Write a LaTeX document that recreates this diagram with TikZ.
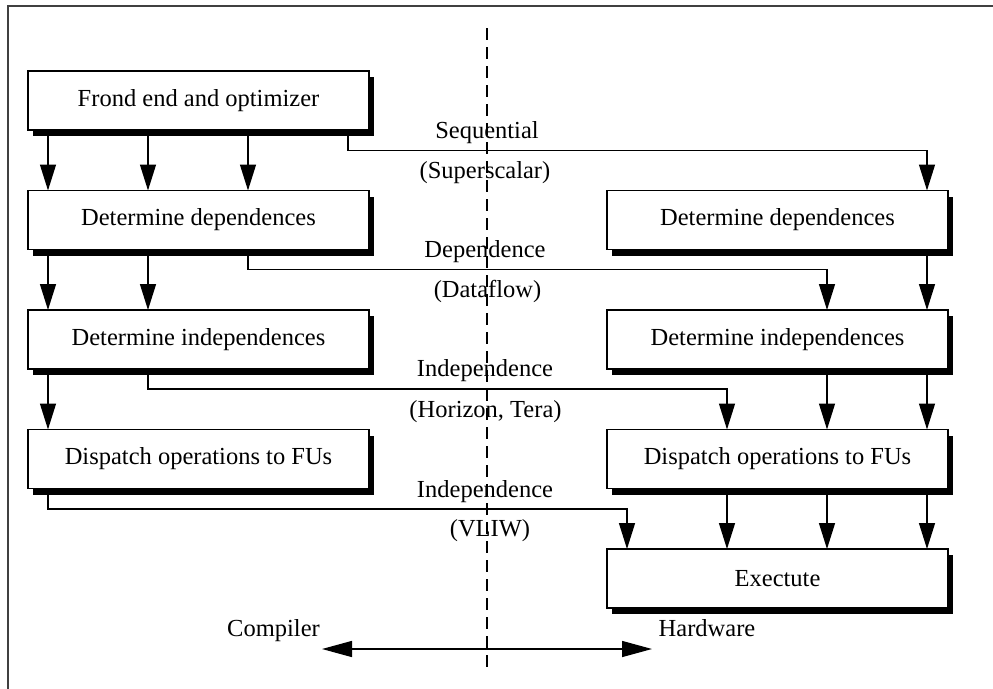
\documentclass[tikz,border=0pt]{standalone}
\usepackage{fontspec}
\setmainfont{Liberation Serif}
\usetikzlibrary{arrows.meta,shadows}
\begin{document}
\begin{tikzpicture}[x=1pt,y=-1pt,
  every node/.style={font=\fontsize{24.5}{28}\selectfont},
  procbox/.style={draw, line width=1.4pt, fill=white, minimum width=341pt,
    minimum height=59pt, inner sep=0pt, outer sep=0pt,
    drop shadow={shadow xshift=4.5pt, shadow yshift=-6pt, fill=black, opacity=1}},
  flow/.style={line width=1.4pt, -{Triangle[width=16pt,length=26pt]}},
  lbl/.style={anchor=base, inner sep=0pt},
  divider/.style={line width=1.5pt, dash pattern=on 12pt off 7pt},
  frame/.style={line width=2pt, black!75},
]
\useasboundingbox (0,0) rectangle (993,688);

% outer frame (runs off the page at right and bottom)
\draw[frame] (7.5,720) -- (7.5,6) -- (1010,6);

% compiler / hardware divider
\coordinate (dtop) at (487,28);
\coordinate (dbot) at (487,670);
\draw[divider] (dtop) -- (dbot);

% compiler side
\node[procbox] (L1) at (198.5,100.5) {Frond end and optimizer};
\node[procbox] (L2) at (198.5,220)   {Determine dependences};
\node[procbox] (L3) at (198.5,339.5) {Determine independences};
\node[procbox] (L4) at (198.5,459)   {Dispatch operations to FUs};

% hardware side
\node[procbox] (R2) at (777.5,220)   {Determine dependences};
\node[procbox] (R3) at (777.5,339.5) {Determine independences};
\node[procbox] (R4) at (777.5,459)   {Dispatch operations to FUs};
\node[procbox] (R5) at (777.5,578.5) {Exectute};

% vertical flows on the compiler side
\foreach \dx in {20,120,220}
  \draw[flow] ([xshift=\dx pt]L1.south west) -- ([xshift=\dx pt]L2.north west);
\foreach \dx in {20,120}
  \draw[flow] ([xshift=\dx pt]L2.south west) -- ([xshift=\dx pt]L3.north west);
\draw[flow] ([xshift=20pt]L3.south west) -- ([xshift=20pt]L4.north west);

% vertical flows on the hardware side
\draw[flow] ([xshift=320pt]R2.south west) -- ([xshift=320pt]R3.north west);
\foreach \dx in {220,320}
  \draw[flow] ([xshift=\dx pt]R3.south west) -- ([xshift=\dx pt]R4.north west);
\foreach \dx in {120,220,320}
  \draw[flow] ([xshift=\dx pt]R4.south west) -- ([xshift=\dx pt]R5.north west);

% hand-over from compiler to hardware
\draw[flow] ([xshift=320pt]L1.south west) -- ++(0,20.5) -| ([xshift=320pt]R2.north west);
\draw[flow] ([xshift=220pt]L2.south west) -- ++(0,20)   -| ([xshift=220pt]R3.north west);
\draw[flow] ([xshift=120pt]L3.south west) -- ++(0,20)   -| ([xshift=120pt]R4.north west);
\draw[flow] ([xshift=20pt]L4.south west)  -- ++(0,20.5) -| ([xshift=20pt]R5.north west);

% architecture class labels
\node[lbl] (seq)  at (487,138.5)   {Sequential};
\node[lbl] (seqs) at (485,178)     {(Superscalar)};
\node[lbl] (dep)  at (485,257)     {Dependence};
\node[lbl] (deps) at (487.5,297.5) {(Dataflow)};
\node[lbl] (ind)  at (485,376.5)   {Independence};
\node[lbl] (inds) at (485.5,417)   {(Horizon, Tera)};
\node[lbl] (vl)   at (485,497)     {Independence};
\node[lbl] (vls)  at (490,536.5)   {(VLIW)};

% compiler <-> hardware axis
\node[lbl] (comp) at (273.5,636) {Compiler};
\node[lbl] (hw)   at (707,636)   {Hardware};
\coordinate (ca) at (322,649);
\coordinate (cb) at (652,649);
\draw[line width=1.4pt, {Triangle[width=16pt,length=30pt]}-{Triangle[width=16pt,length=30pt]}] (ca) -- (cb);
\end{tikzpicture}
\end{document}
